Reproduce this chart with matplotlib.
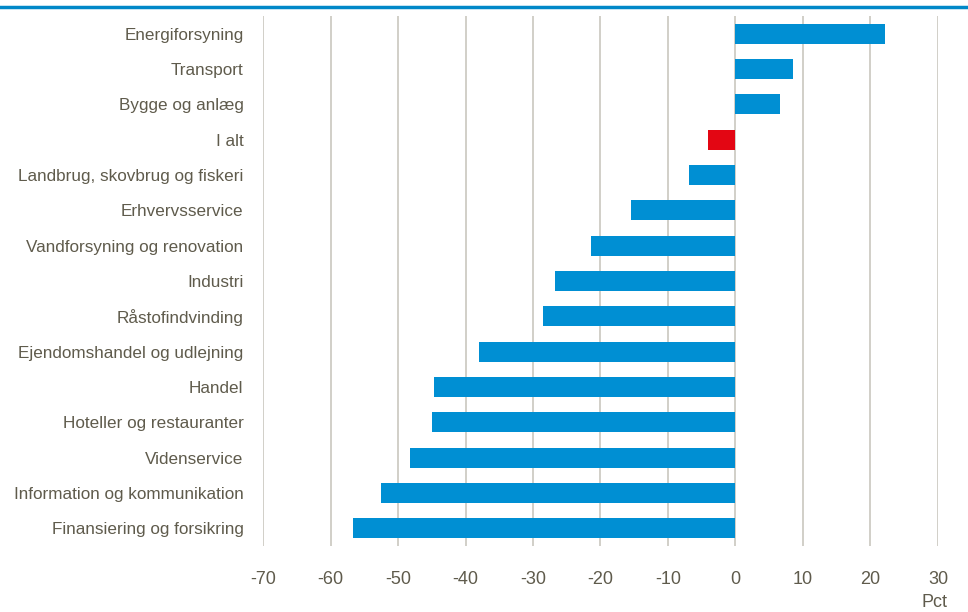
import matplotlib.pyplot as plt
from matplotlib import font_manager

categories = ['Energiforsyning', 'Transport', 'Bygge og anlæg', 'I alt',
              'Landbrug, skovbrug og fiskeri', 'Erhvervsservice',
              'Vandforsyning og renovation', 'Industri', 'Råstofindvinding',
              'Ejendomshandel og udlejning', 'Handel', 'Hoteller og restauranter',
              'Videnservice', 'Information og kommunikation',
              'Finansiering og forsikring']
values = [22.1, 8.5, 6.6, -4.1, -6.9, -15.5, -21.4, -26.7, -28.5,
          -38.0, -44.7, -45.0, -48.2, -52.5, -56.7]
xticks = [-70, -60, -50, -40, -30, -20, -10, 0, 10, 20, 30]

names = {f.name for f in font_manager.fontManager.ttflist}
family = 'Liberation Sans Narrow' if 'Liberation Sans Narrow' in names else 'Liberation Sans'
plt.rcParams['font.family'] = [family, 'DejaVu Sans']
ysize = 13 if family == 'Liberation Sans Narrow' else 12.3

text_col = '#5f5b4c'
blue = '#008fd3'
red = '#e30613'

fig = plt.figure(figsize=(9.68, 6.12), dpi=100)
ax = fig.add_axes([0.2717, 0.108, 0.6973, 0.866])

colors = [red if c == 'I alt' else blue for c in categories]
ypos = list(range(len(categories)))
ax.barh(ypos, values, height=0.57, color=colors, zorder=3)

ax.set_xlim(-70, 30)
ax.set_ylim(len(categories) - 0.5, -0.5)
ax.set_xticks(xticks)
ax.set_xticklabels([str(t) for t in xticks])
ax.set_yticks(ypos)
ax.set_yticklabels(categories)

ax.grid(axis='x', color='#c9c7bf', linewidth=1.2, zorder=0)
for s in ax.spines.values():
    s.set_visible(False)
ax.tick_params(axis='both', length=0, colors=text_col)
ax.tick_params(axis='x', pad=18, labelsize=13)
ax.tick_params(axis='y', pad=14, labelsize=ysize)

fig.text(0.979, 0.002, 'Pct', ha='right', va='bottom', fontsize=13, color=text_col)
fig.add_artist(plt.Line2D([0, 1], [0.988, 0.988], transform=fig.transFigure,
                          color='#0088c8', linewidth=2.5))

fig.savefig('out.png', dpi=100)
